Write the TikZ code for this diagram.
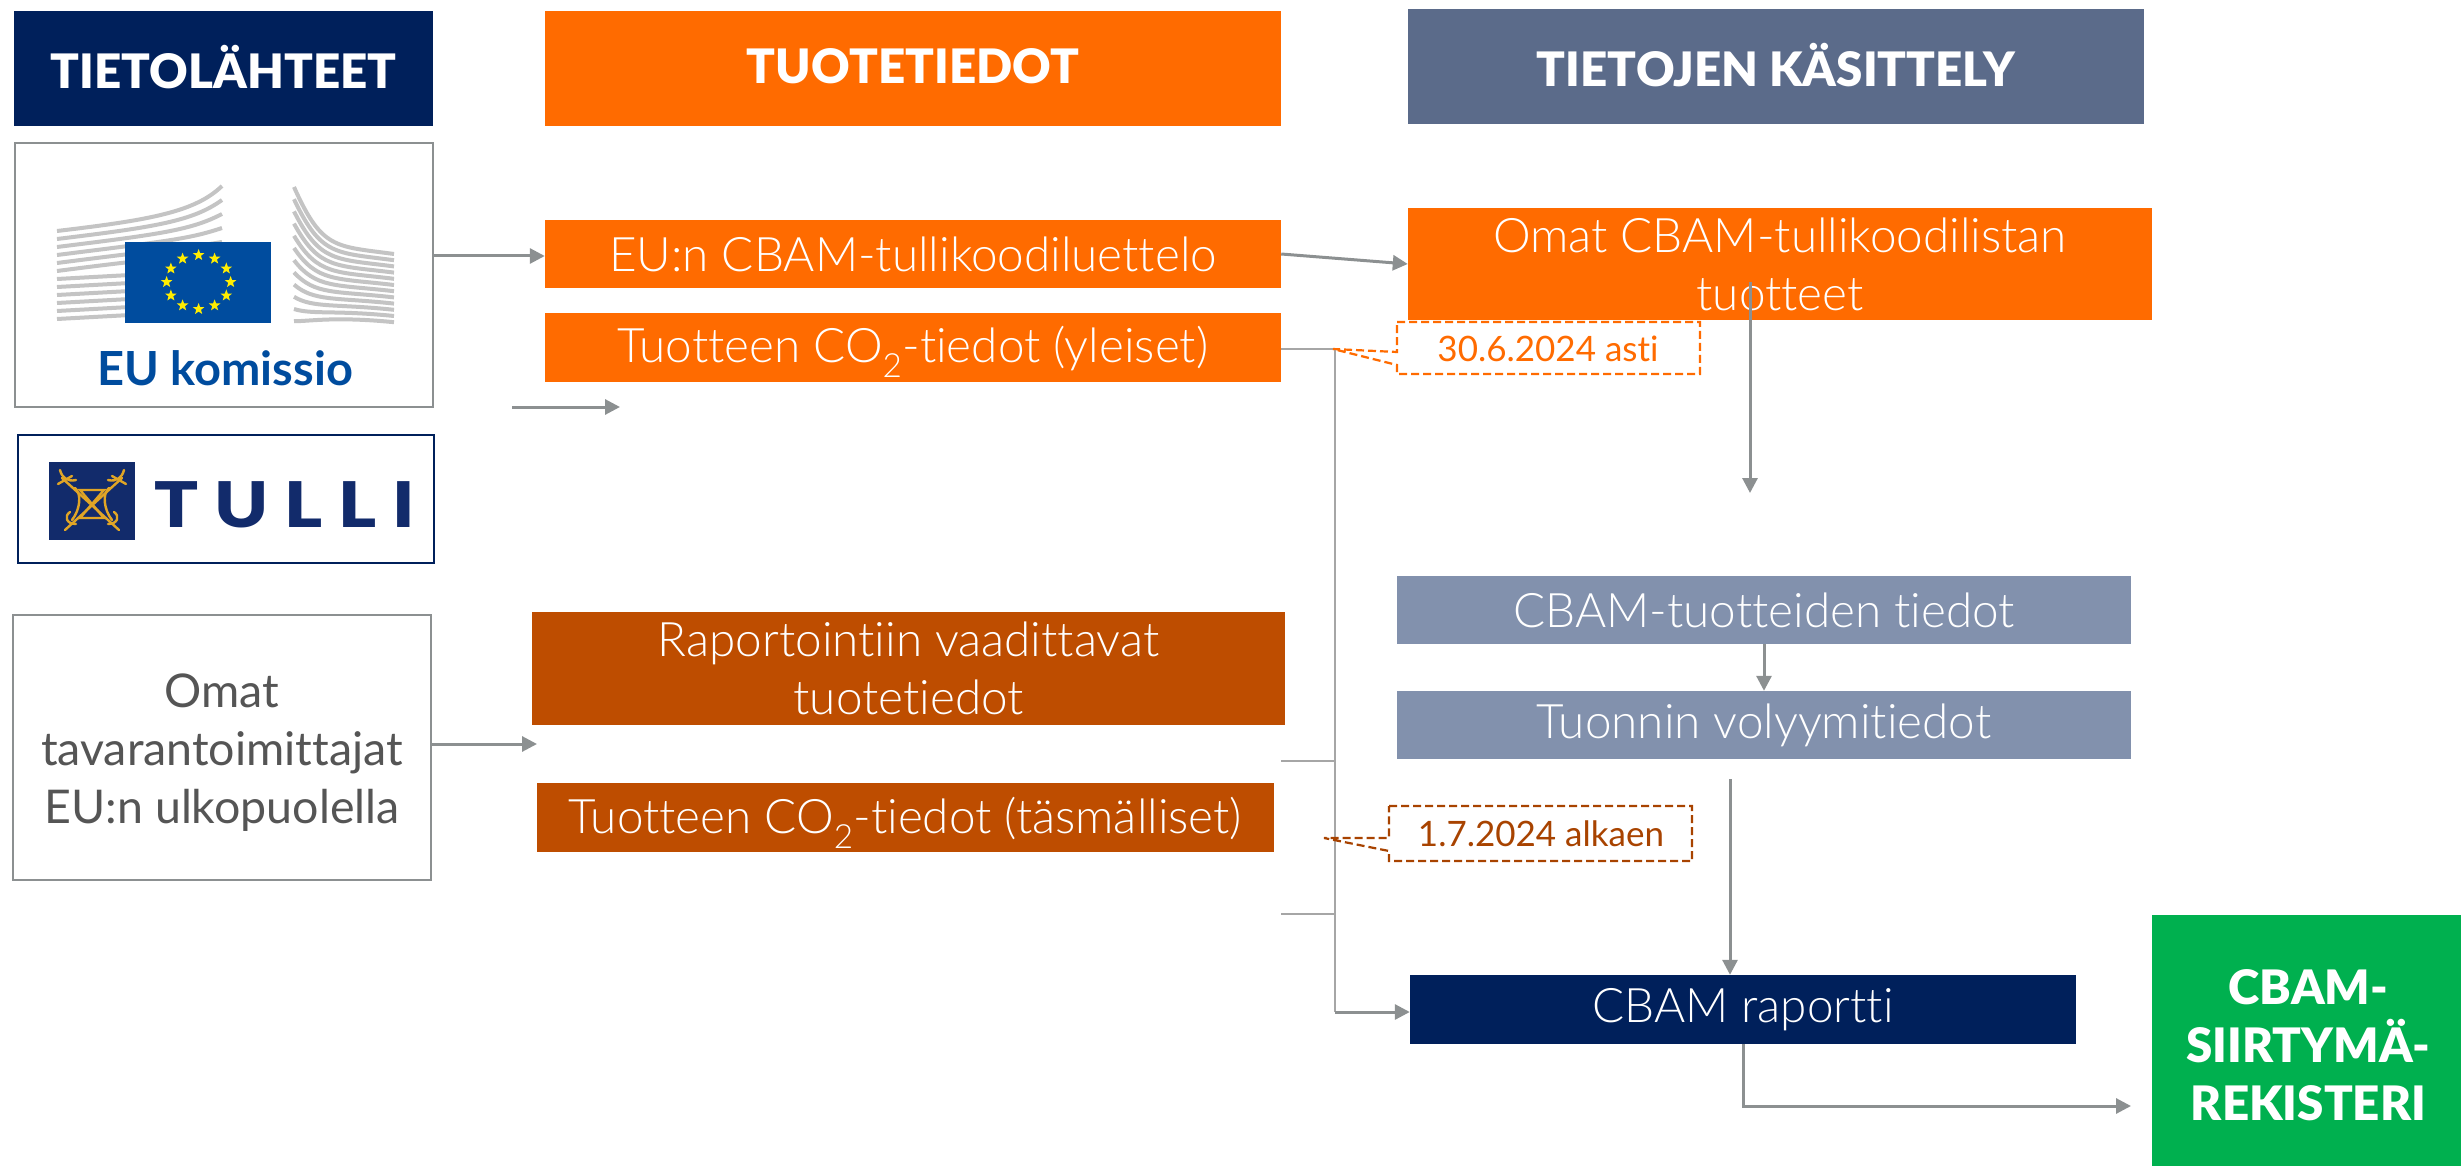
\documentclass[tikz,border=0pt]{standalone}
\usepackage{graphicx}
\usepackage{fontspec}
\setmainfont{Lato}[UprightFont=* Light,BoldFont=* Black,Ligatures=NoCommon]
\newfontfamily\hdfont{Lato}[UprightFont=* Black,Ligatures=NoCommon]
\newfontfamily\bdfont{Lato}[UprightFont=* Bold,Ligatures=NoCommon]
\newfontfamily\rgfont{Lato}[Ligatures=NoCommon]
\definecolor{org}{HTML}{FF6B00}
\definecolor{dorg}{HTML}{BE4D00}
\definecolor{calldark}{HTML}{A84300}
\definecolor{navy}{HTML}{00205B}
\definecolor{slate}{HTML}{5B6B8A}
\definecolor{lslate}{HTML}{8291AD}
\definecolor{grn}{HTML}{00B04F}
\definecolor{arr}{HTML}{8C9091}
\definecolor{thin}{HTML}{A6A6A6}
\definecolor{eublue}{HTML}{004C9E}
\definecolor{wing}{HTML}{C4C4C4}
\definecolor{tullib}{HTML}{122B6B}
\definecolor{gold}{HTML}{E0A526}
\definecolor{txtgray}{HTML}{555555}
\usetikzlibrary{arrows.meta}
\tikzset{
  x=1pt,y=-1pt,
  hd/.style={text=white,font=\hdfont\fontsize{47.5}{58}\selectfont,align=center,inner sep=0pt},
  bx/.style={text=white,font=\fontsize{47.6}{58}\selectfont,align=center,inner sep=0pt},
  gbox/.style={draw=#1,line width=2.5pt,fill=white,inner sep=0pt},
  flow/.style={draw=arr,line width=3pt,-{Triangle[length=15pt,width=15pt]}},
  thinl/.style={draw=thin,line width=2pt},
  dsh/.style={line width=2.2pt,dash pattern=on 8pt off 4pt,fill=white},
  wingl/.style={draw=wing,line width=4pt},
  goldl/.style={draw=gold,line width=2.4pt,line cap=round},
}
\newcommand{\bxnode}[7]{\node[#2,minimum width={(#5-#3)*1pt},minimum height={(#6-#4)*1pt}] (#1) at ({(#3+#5)/2},{(#4+#6)/2}) {#7};}
\newcommand{\upby}[1]{\rule[-#1]{0pt}{1pt}}
\newcommand{\dnby}[1]{\rule{0pt}{#1}}
\begin{document}
\begin{tikzpicture}
\useasboundingbox (0,0) rectangle (2461,1166);
% headers
\bxnode{h1}{hd,fill=navy}{14}{11}{433}{126}{TIETOLÄHTEET\upby{4pt}}
\bxnode{h2}{hd,fill=org}{545}{11}{1281}{126}{TUOTETIEDOT\upby{4pt}}
\bxnode{h3}{hd,fill=slate}{1408}{9}{2144}{124}{TIETOJEN KÄSITTELY\upby{4pt}}
% source boxes
\bxnode{ec}{gbox=arr}{15}{143}{433}{407}{}
\bxnode{tulli}{draw=navy,line width=2pt,fill=white}{18}{435}{434}{563}{}
\bxnode{own}{gbox=arr,text=txtgray,font=\rgfont\fontsize{46.5}{58}\selectfont,align=center}{13}{615}{431}{880}{\dnby{44pt}Omat\\tavarantoimittajat\\EU:n ulkopuolella}
% EC logo
\foreach \i in {0,...,5}{
  \draw[wingl] (57,{231+\i*8}) .. controls ({150+\i*6},{220+\i*7}) and ({195-\i*2},{212+\i*9}) .. (222,{186+\i*14});
}
\foreach \i in {6,...,11}{
  \draw[wingl] (57,{231+\i*8}) -- (130,{227+\i*8});
}
\foreach \i in {0,...,11}{
  \draw[wingl] (294,{187+\i*12.2}) .. controls ({322-\i*1},{187+\i*12.2+(66-\i*6)*0.95}) and (335,{246+\i*6.4}) .. (394,{254+\i*6.2});
}
\fill[eublue] (125,242) rectangle (271,323);
\foreach \a in {0,30,...,330}{
  \begin{scope}[shift={({198.6+32*cos(\a)},{282+27*sin(\a)})}]
    \fill[yellow!95!orange] (0,-6) -- (1.5,-2) -- (5.8,-1.9) -- (2.4,0.8) -- (3.6,5) -- (0,2.6) -- (-3.6,5) -- (-2.4,0.8) -- (-5.8,-1.9) -- (-1.5,-2) -- cycle;
  \end{scope}
}
\node[text=eublue,font=\bdfont\fontsize{47}{56}\selectfont,inner sep=0pt,anchor=base] (ectext) at (225,385) {EU komissio};
% Tulli logo
\fill[tullib] (49,462) rectangle (135,540);
\draw[goldl] (62,478) -- (119,530);
\draw[goldl] (122,478) -- (65,530);
\draw[goldl] (75,488) .. controls (82,494) and (80,510) .. (72,520);
\draw[goldl] (109,488) .. controls (102,494) and (104,510) .. (112,520);
\draw[goldl] (80,490) -- (104,490) -- (80,518) -- (104,518) -- cycle;
\draw[goldl] (60,470) .. controls (62,478) and (68,482) .. (76,480);
\draw[goldl] (124,470) .. controls (122,478) and (116,482) .. (108,480);
\draw[goldl] (58,484) -- (72,476);
\draw[goldl] (126,484) -- (112,476);
\draw[goldl] (70,512) .. controls (64,516) and (66,524) .. (76,524);
\draw[goldl] (114,512) .. controls (120,516) and (118,524) .. (108,524);
\node[text=tullib,font=\hdfont\addfontfeature{LetterSpace=22}\fontsize{63}{70}\selectfont,inner sep=0pt,anchor=west] (tullitext) at (154,505) {\scalebox{1.15}[1]{TULLI}};
% middle column
\bxnode{eulist}{bx,fill=org}{545}{220}{1281}{288}{EU:n CBAM-tullikoodiluettelo}
\bxnode{co1}{bx,fill=org}{545}{313}{1281}{382}{\dnby{38pt}Tuotteen CO\smash{\textsubscript{2}}-tiedot (yleiset)}
\bxnode{rep}{bx,fill=dorg}{532}{612}{1285}{725}{Raportointiin vaadittavat\\tuotetiedot}
\bxnode{co2}{bx,fill=dorg}{537}{783}{1274}{852}{\dnby{38pt}Tuotteen CO\smash{\textsubscript{2}}-tiedot (täsmälliset)}
% right column
\bxnode{omat}{bx,fill=org}{1408}{208}{2152}{320}{Omat CBAM-tullikoodilistan\\tuotteet}
\bxnode{prod}{bx,fill=lslate}{1397}{576}{2131}{644}{CBAM-tuotteiden tiedot}
\bxnode{vol}{bx,fill=lslate}{1397}{691}{2131}{759}{Tuonnin volyymitiedot}
\bxnode{rap}{bx,fill=navy}{1410}{975}{2076}{1044}{CBAM raportti}
\bxnode{reg}{hd,fill=grn}{2152}{915}{2461}{1166}{\dnby{44pt}\hspace{4pt}CBAM-\\\hspace{4pt}SIIRTYMÄ-\\\hspace{4pt}REKISTERI}
% free ends
\coordinate (ecOut) at (433,256);
\coordinate (strayA) at (512,407);
\coordinate (strayB) at (620,407);
\coordinate (ownEnd) at (537,744);
\coordinate (junc) at (1335,349);
\coordinate (juncB) at (1335,1012);
\coordinate (omatStart) at (1750,282);
\coordinate (omatEnd) at (1750,493);
\coordinate (volStart) at (1730,779);
\coordinate (elbow) at (1743,1106);
\coordinate (regEnd) at (2131,1106);
\coordinate (stub1) at (1281,761);
\coordinate (stub2) at (1281,914);
% connectors
\draw[flow] (ecOut) -- (ecOut -| eulist.west);
\draw[flow] (strayA) -- (strayB);
\draw[flow] (own.east |- ownEnd) -- (ownEnd);
\draw[flow] (eulist.east) -- (omat.west);
\draw[thinl] (co1.east |- junc) -- (junc) -- (juncB);
\draw[thinl] (stub1) -- (stub1 -| junc);
\draw[thinl] (stub2) -- (stub2 -| junc);
\draw[flow] (juncB) -- (juncB -| rap.west);
\draw[flow] (omatStart) -- (omatEnd);
\draw[flow] (prod.south -| 1764,0) -- (vol.north -| 1764,0);
\draw[flow] (volStart) -- (volStart |- rap.north);
\draw[flow] (elbow |- rap.south) -- (elbow) -- (regEnd);
% callouts
\draw[dsh,draw=org] (1397,322) -- (1700,322) -- (1700,374) -- (1397,374) -- (1397,365) -- (1333,349) -- (1397,352) -- cycle;
\node[text=org,font=\rgfont\fontsize{35}{42}\selectfont,inner sep=0pt] (c1) at (1548,349) {30.6.2024 asti};
\draw[dsh,draw=calldark] (1389,806) -- (1692,806) -- (1692,861) -- (1389,861) -- (1389,851) -- (1324,838) -- (1389,838) -- cycle;
\node[text=calldark,font=\rgfont\fontsize{35}{42}\selectfont,inner sep=0pt] (c2) at (1541,834) {1.7.2024 alkaen};
\end{tikzpicture}
\end{document}
